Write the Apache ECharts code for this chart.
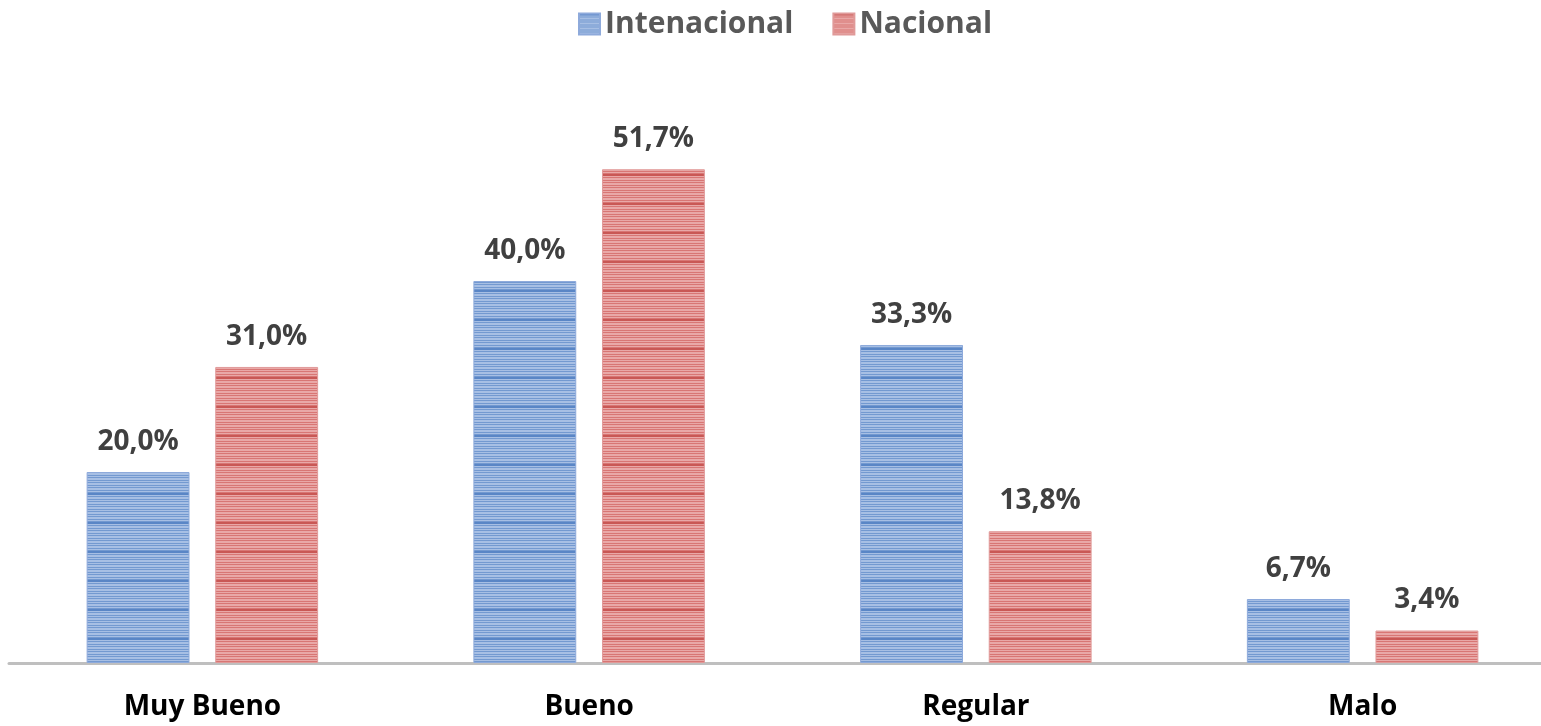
<!DOCTYPE html>
<html>
<head>
<meta charset="utf-8">
<script src="https://cdn.jsdelivr.net/npm/echarts@6/dist/echarts.min.js"></script>
<style>
  html, body { margin: 0; padding: 0; background: #fff; overflow: hidden; }
  /* the plot runs slightly past the right edge of the page */
  #chart { width: 1556px; height: 726px; }
</style>
</head>
<body>
<div id="chart"></div>
<script>
// Survey rating categories and share of answers (%) per group
const categories = ['Muy Bueno', 'Bueno', 'Regular', 'Malo'];
const internacional = [20.0, 40.0, 33.3, 6.7];
const nacional = [31.0, 51.7, 13.8, 3.4];
const seriesNames = ['Intenacional', 'Nacional'];

// Horizontal striped fill used for the bars: one 29px repeat of thin
// light / medium / dark rows (L, M, D)
const stripeRows = 'DDLMLLMLMLLMLMLLMLMLLMLMLLMLM';
function stripes(light, mid, dark) {
  const c = document.createElement('canvas');
  c.width = 4; c.height = stripeRows.length;
  const g = c.getContext('2d');
  const col = { L: light, M: mid, D: dark };
  for (let y = 0; y < stripeRows.length; y++) {
    g.fillStyle = col[stripeRows[y]];
    g.fillRect(0, y, 4, 1);
  }
  return { image: c, repeat: 'repeat' };
}

const bluePattern = stripes('#a7bfe4', '#7399d0', '#5a86c6');
const redPattern = stripes('#e9a8a7', '#d87674', '#c95855');

const fontFam = '"Open Sans", "Noto Sans", sans-serif';
const fmt = v => v.toFixed(1).replace('.', ',') + '%';

const labelStyle = {
  show: true,
  position: 'top',
  distance: 16,
  fontFamily: fontFam,
  fontWeight: 'bold',
  fontSize: 28,
  color: '#404040',
  formatter: p => fmt(p.value)
};

const chart = echarts.init(document.getElementById('chart'), null, { renderer: 'canvas' });
chart.setOption({
  animation: false,
  backgroundColor: '#fff',
  legend: {
    top: 4,
    left: 573,
    icon: 'rect',
    itemWidth: 21,
    itemHeight: 21,
    itemGap: 39,
    textStyle: { fontFamily: fontFam, fontWeight: 'bold', fontSize: 30, color: '#595959' },
    data: seriesNames
  },
  grid: { left: 9, top: 90, right: 0, height: 573, containLabel: false },
  xAxis: {
    type: 'category',
    data: categories,
    axisLine: { lineStyle: { color: '#bfbfbf', width: 3 } },
    axisTick: { show: false },
    axisLabel: {
      margin: 30,
      fontFamily: fontFam,
      fontWeight: 'bold',
      fontSize: 28,
      color: '#000'
    }
  },
  yAxis: {
    type: 'value',
    min: 0,
    max: 60,
    show: false,
    splitLine: { show: false }
  },
  series: [
    {
      name: seriesNames[0],
      type: 'bar',
      data: internacional,
      barWidth: '26.6%',
      barGap: '25%',
      itemStyle: { color: bluePattern, borderColor: '#8eaadb', borderWidth: 1 },
      label: labelStyle
    },
    {
      name: seriesNames[1],
      type: 'bar',
      data: nacional,
      barWidth: '26.6%',
      itemStyle: { color: redPattern, borderColor: '#e09a99', borderWidth: 1 },
      label: labelStyle
    }
  ]
});
</script>
</body>
</html>
